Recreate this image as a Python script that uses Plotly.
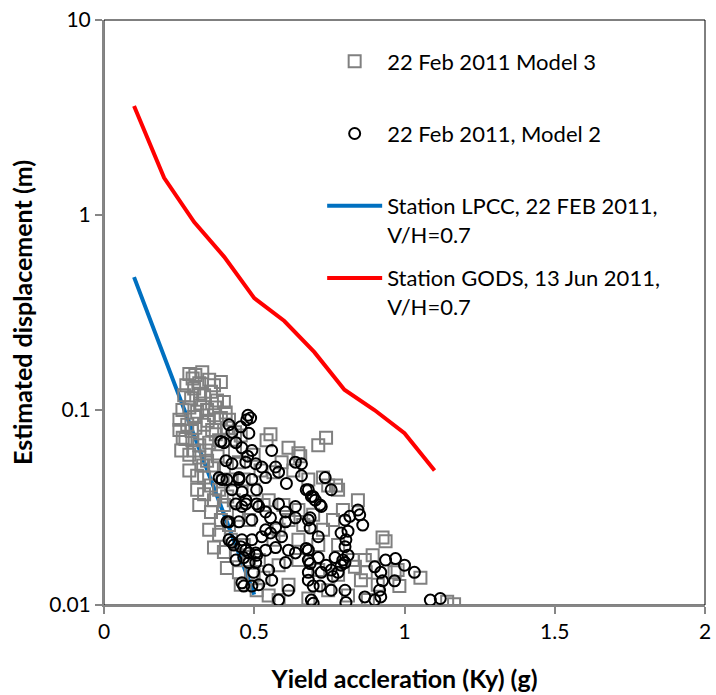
import plotly.graph_objects as go

# ---- data ----
model3_x = [0.284, 0.304, 0.327, 0.350, 0.274, 0.300, 0.317, 0.366, 0.389, 0.267,
            0.290, 0.333, 0.356, 0.376, 0.399, 0.261, 0.284, 0.310, 0.343, 0.366,
            0.389, 0.416, 0.251, 0.277, 0.304, 0.333, 0.360, 0.409, 0.436, 0.455,
            0.251, 0.271, 0.294, 0.317, 0.350, 0.383, 0.422, 0.257, 0.284, 0.317,
            0.343, 0.366, 0.399, 0.449, 0.284, 0.310, 0.333, 0.356, 0.383, 0.422,
            0.310, 0.333, 0.366, 0.399, 0.432, 0.317, 0.356, 0.389, 0.416, 0.449,
            0.350, 0.383, 0.422, 0.465, 0.366, 0.399, 0.442, 0.482, 0.409, 0.449,
            0.498, 0.531, 0.455, 0.508, 0.548, 0.581, 0.554, 0.541, 0.614, 0.647,
            0.713, 0.739, 0.521, 0.564, 0.630, 0.680, 0.746, 0.779, 0.498, 0.548,
            0.597, 0.647, 0.696, 0.762, 0.795, 0.845, 0.927, 0.937, 0.581, 0.647,
            0.713, 0.779, 0.828, 0.868, 0.894, 0.835, 0.871, 0.967, 1.053, 0.983,
            0.855, 0.977, 0.647, 0.713, 0.779, 0.911, 0.746, 0.812, 0.878, 0.680,
            0.614, 1.142, 1.165, 0.564, 0.614, 0.663, 0.729, 0.515, 0.581, 0.482,
            0.465, 0.498, 0.531, 0.653, 0.591, 0.729, 0.772, 0.295, 0.320, 0.345,
            0.372, 0.300, 0.262, 0.340, 0.378, 0.395, 0.330, 0.410, 0.300, 0.292,
            0.436, 0.370, 0.405, 0.320]
model3_y = [0.153, 0.151, 0.156, 0.143, 0.134, 0.129, 0.137, 0.134, 0.139, 0.119,
            0.115, 0.119, 0.124, 0.112, 0.110, 0.100, 0.103, 0.098, 0.100, 0.094,
            0.091, 0.089, 0.089, 0.084, 0.081, 0.084, 0.079, 0.081, 0.077, 0.074,
            0.079, 0.071, 0.070, 0.066, 0.068, 0.070, 0.070, 0.062, 0.059, 0.057,
            0.055, 0.052, 0.050, 0.054, 0.049, 0.046, 0.045, 0.041, 0.039, 0.044,
            0.039, 0.037, 0.0345, 0.0326, 0.0345, 0.0326, 0.030, 0.0273, 0.0257, 0.029,
            0.0243, 0.0229, 0.0216, 0.0203, 0.0197, 0.0187, 0.018, 0.017, 0.0155, 0.0147,
            0.0143, 0.0138, 0.0127, 0.0119, 0.0112, 0.0106, 0.075, 0.070, 0.064, 0.060,
            0.066, 0.072, 0.049, 0.048, 0.049, 0.044, 0.041, 0.039, 0.039, 0.0345,
            0.0326, 0.0307, 0.029, 0.0273, 0.0307, 0.0345, 0.0222, 0.0212, 0.0243, 0.0216,
            0.0203, 0.0203, 0.017, 0.017, 0.018, 0.0157, 0.0147, 0.0147, 0.0138, 0.0125,
            0.0134, 0.0151, 0.017, 0.0151, 0.0143, 0.0127, 0.0119, 0.0112, 0.0106, 0.0108,
            0.0127, 0.0104, 0.0101, 0.0216, 0.0273, 0.0257, 0.0243, 0.017, 0.016, 0.0273,
            0.044, 0.059, 0.0326, 0.058, 0.054, 0.045, 0.041, 0.145, 0.108, 0.088,
            0.075, 0.092, 0.072, 0.062, 0.058, 0.043, 0.052, 0.036, 0.062, 0.078,
            0.061, 0.103, 0.097, 0.121]

model2_x = [0.479, 0.475, 0.416, 0.426, 0.455, 0.482, 0.389, 0.399, 0.439, 0.459,
            0.492, 0.558, 0.406, 0.426, 0.472, 0.505, 0.525, 0.571, 0.637, 0.383,
            0.409, 0.449, 0.492, 0.538, 0.581, 0.607, 0.657, 0.736, 0.756, 0.673,
            0.426, 0.459, 0.508, 0.439, 0.472, 0.508, 0.538, 0.554, 0.581, 0.604,
            0.637, 0.690, 0.703, 0.723, 0.416, 0.449, 0.492, 0.538, 0.571, 0.604,
            0.637, 0.680, 0.686, 0.713, 0.459, 0.492, 0.554, 0.591, 0.426, 0.472,
            0.505, 0.538, 0.571, 0.614, 0.637, 0.680, 0.680, 0.713, 0.769, 0.789,
            0.802, 0.439, 0.482, 0.505, 0.548, 0.604, 0.680, 0.723, 0.756, 0.779,
            0.802, 0.459, 0.492, 0.558, 0.614, 0.680, 0.696, 0.719, 0.756, 0.802,
            0.581, 0.690, 0.696, 0.657, 0.680, 0.696, 0.719, 0.686, 0.673, 0.686,
            0.739, 0.762, 0.789, 0.795, 0.812, 0.802, 0.812, 0.805, 0.818, 0.845,
            0.851, 0.861, 0.805, 0.868, 0.901, 0.921, 0.927, 0.917, 0.921, 0.937,
            0.967, 0.970, 1.000, 1.033, 0.901, 1.086, 1.119, 0.393, 0.449, 0.472,
            0.515, 0.459, 0.409, 0.525, 0.455, 0.416, 0.432, 0.482, 0.508, 0.465,
            0.498, 0.465, 0.515, 0.488, 0.478]
model2_y = [0.094, 0.089, 0.084, 0.077, 0.082, 0.076, 0.069, 0.068, 0.068, 0.064,
            0.062, 0.062, 0.055, 0.053, 0.054, 0.053, 0.051, 0.051, 0.054, 0.045,
            0.044, 0.044, 0.044, 0.045, 0.048, 0.042, 0.046, 0.045, 0.039, 0.039,
            0.039, 0.038, 0.039, 0.033, 0.033, 0.033, 0.030, 0.028, 0.033, 0.030,
            0.032, 0.036, 0.0345, 0.032, 0.0267, 0.0267, 0.0273, 0.0243, 0.025, 0.0267,
            0.028, 0.0273, 0.0248, 0.0224, 0.0216, 0.0216, 0.0234, 0.0224, 0.021, 0.0191,
            0.0185, 0.0191, 0.0197, 0.0191, 0.0185, 0.0191, 0.017, 0.0175, 0.0175, 0.0234,
            0.0273, 0.017, 0.0165, 0.0165, 0.0151, 0.0165, 0.0147, 0.0147, 0.0151, 0.0147,
            0.0165, 0.013, 0.0125, 0.0134, 0.0119, 0.0134, 0.0125, 0.0125, 0.0119, 0.0119,
            0.0106, 0.0106, 0.0102, 0.053, 0.039, 0.036, 0.0326, 0.028, 0.0195, 0.0163,
            0.016, 0.014, 0.016, 0.017, 0.018, 0.0199, 0.0239, 0.0216, 0.0285, 0.0307,
            0.029, 0.0257, 0.0103, 0.011, 0.0157, 0.0147, 0.0133, 0.0119, 0.011, 0.017,
            0.0133, 0.0173, 0.016, 0.0147, 0.0106, 0.0106, 0.0108, 0.044, 0.045, 0.0345,
            0.032, 0.032, 0.0267, 0.0224, 0.0199, 0.0216, 0.0203, 0.0185, 0.018, 0.0175,
            0.0147, 0.0125, 0.0127, 0.091, 0.058]

lpcc_x = [0.1, 0.2, 0.3, 0.4, 0.5]
lpcc_y = [0.48, 0.19, 0.074, 0.029, 0.0113]

gods_x = [0.1, 0.2, 0.3, 0.4, 0.5, 0.6, 0.7, 0.8, 0.9, 1.0, 1.1]
gods_y = [3.62, 1.55, 0.92, 0.61, 0.375, 0.286, 0.198, 0.127, 0.100, 0.076, 0.049]

names = ["22 Feb 2011 Model 3<br>&nbsp;", "22 Feb 2011, Model 2<br>&nbsp;",
         "Station LPCC, 22 FEB 2011,<br>V/H=0.7",
         "Station GODS, 13 Jun 2011,<br>V/H=0.7"]

xticks = [0, 0.5, 1, 1.5, 2]
xticklabels = ["0", "0.5", "1", "1.5", "2"]
yticks = [0.01, 0.1, 1, 10]
yticklabels = ["0.01", "0.1", "1", "10"]

FONT = "Lato"
fig = go.Figure()
fig.add_trace(go.Scatter(x=lpcc_x, y=lpcc_y, mode="lines", name=names[2],
                         line=dict(color="#0070C0", width=4), legendrank=3,
                         legendgroup="c"))
fig.add_trace(go.Scatter(x=gods_x, y=gods_y, mode="lines", name=names[3],
                         line=dict(color="#FF0000", width=4), legendrank=4,
                         legendgroup="d"))
fig.add_trace(go.Scatter(x=model3_x, y=model3_y, mode="markers", name=names[0],
                         marker=dict(symbol="square-open", size=12, color="#808080",
                                     line=dict(width=2, color="#808080")),
                         legendrank=1, legendgroup="a"))
fig.add_trace(go.Scatter(x=model2_x, y=model2_y, mode="markers", name=names[1],
                         marker=dict(symbol="circle-open", size=11, color="#000000",
                                     line=dict(width=2, color="#000000")),
                         legendrank=2, legendgroup="b"))

fig.add_shape(type="rect", xref="paper", yref="paper", x0=0, y0=0, x1=1, y1=1,
              line=dict(color="#000000", width=1), layer="below")

fig.update_layout(
    width=716, height=695,
    margin=dict(l=104, r=5, t=20, b=90),
    paper_bgcolor="white", plot_bgcolor="white",
    font=dict(family=FONT, size=21, color="#000000"),
    showlegend=True,
    legend=dict(x=0.363, y=0.965, xanchor="left", yanchor="top",
                bgcolor="rgba(0,0,0,0)", font=dict(size=22, family=FONT),
                itemwidth=55, valign="top", tracegroupgap=12,
                traceorder="grouped"),
    xaxis=dict(range=[0, 2], tickvals=xticks, ticktext=xticklabels,
               showgrid=False, zeroline=False, showline=True,
               linecolor="#868686", linewidth=2, ticks="outside",
               ticklen=7, tickcolor="#868686", tickwidth=2,
               ticklabeloverflow="allow",
               tickfont=dict(size=21, family=FONT),
               title=dict(text="Yield accleration (Ky) (g)",
                          font=dict(size=25, family=FONT, weight="bold"),
                          standoff=28)),
    yaxis=dict(type="log", range=[-2, 1], tickvals=yticks, ticktext=yticklabels,
               showgrid=False, zeroline=False, showline=True,
               linecolor="#868686", linewidth=2, ticks="outside",
               ticklen=7, tickcolor="#868686", tickwidth=2,
               tickfont=dict(size=21, family=FONT),
               title=dict(text="Estimated displacement (m)",
                          font=dict(size=25, family=FONT, weight="bold"),
                          standoff=10)),
)

fig.write_html("out.html")
